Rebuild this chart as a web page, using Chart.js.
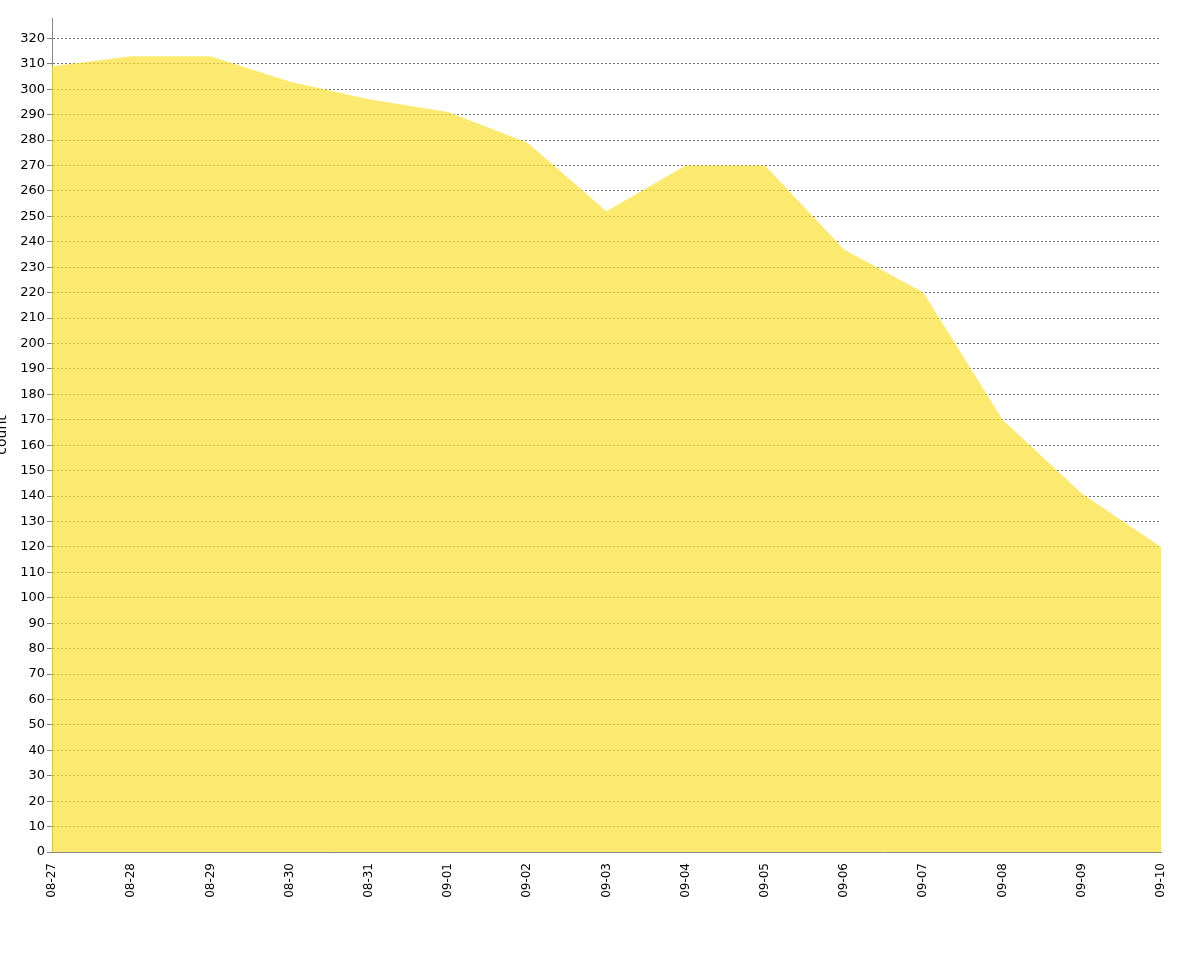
<!DOCTYPE html>
<html>
<head>
<meta charset="utf-8">
<script src="https://cdn.jsdelivr.net/npm/chart.js@4.4.0/dist/chart.umd.min.js"></script>
<style>
  html, body { margin: 0; padding: 0; background: #ffffff; }
  #wrap { position: relative; width: 1200px; height: 956px; }
  canvas { display: block; }
</style>
</head>
<body>
<div id="wrap"><canvas id="c" width="1200" height="956"></canvas></div>
<script>
const categories = ["08-27","08-28","08-29","08-30","08-31","09-01","09-02","09-03","09-04","09-05","09-06","09-07","09-08","09-09","09-10"];
const countValues = [309, 313, 313, 303, 296, 291, 279, 252, 270, 270, 237, 220, 170, 141, 120];
const yAxisTitle = "count";
const yMin = 0;
const yMax = 328;
const yStep = 10;

const ctx = document.getElementById('c').getContext('2d');
new Chart(ctx, {
  type: 'line',
  data: {
    labels: categories,
    datasets: [{
      label: yAxisTitle,
      data: countValues,
      fill: 'origin',
      backgroundColor: 'rgba(251,225,51,0.7)',
      borderWidth: 0,
      borderColor: 'rgba(0,0,0,0)',
      pointRadius: 0,
      pointHoverRadius: 0,
      tension: 0
    }]
  },
  options: {
    responsive: false,
    animation: false,
    devicePixelRatio: 1,
    layout: { padding: { left: 0, right: 39, top: 18, bottom: 0 } },
    plugins: {
      legend: { display: false },
      tooltip: { enabled: false },
      title: { display: false }
    },
    scales: {
      x: {
        type: 'category',
        offset: false,
        grid: { display: false, drawTicks: false },
        border: { display: true, color: '#888888', width: 1 },
        ticks: {
          color: '#000000',
          font: { family: 'DejaVu Sans', size: 12 },
          minRotation: 90,
          maxRotation: 90,
          autoSkip: false,
          padding: 11
        },
        afterFit: function(scale) { scale.height = 104; }
      },
      y: {
        min: yMin,
        max: yMax,
        afterBuildTicks: function(scale) {
          scale.ticks = scale.ticks.filter(t => t.value % yStep === 0);
        },
        ticks: {
          stepSize: yStep,
          color: '#000000',
          font: { family: 'DejaVu Sans', size: 13 },
          padding: 2
        },
        grid: {
          color: '#6e6e6e',
          lineWidth: 1,
          drawTicks: true,
          tickLength: 5,
          tickColor: '#808080',
          tickBorderDash: []
        },
        border: { display: true, color: '#888888', width: 1, dash: [2, 2] },
        title: {
          display: true,
          text: yAxisTitle,
          color: '#000000',
          font: { family: 'DejaVu Sans', size: 14 },
          padding: { top: -6, bottom: 0 }
        },
        afterFit: function(scale) { scale.width = 52; }
      }
    }
  }
});
</script>
</body>
</html>
